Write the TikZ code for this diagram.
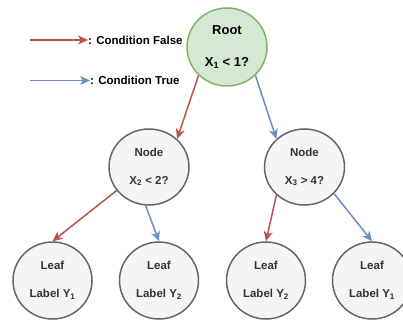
\documentclass[tikz,border=0pt]{standalone}
\usepackage{fontspec}
\setmainfont{Liberation Sans}
\usetikzlibrary{arrows.meta,shapes.geometric}
\definecolor{redE}{HTML}{B85450}
\definecolor{blueE}{HTML}{6C8EBF}
\definecolor{greenF}{HTML}{D5E8D4}
\definecolor{greenS}{HTML}{82B366}
\definecolor{grayF}{HTML}{F5F5F5}
\definecolor{grayS}{HTML}{666666}
\definecolor{txt}{HTML}{333333}
\tikzset{
  rootnode/.style={ellipse, draw=greenS, fill=greenF, line width=1.5pt, minimum width=80pt, minimum height=78pt, inner sep=0pt, align=center, text=black, font=\fontsize{13}{15.6}\selectfont\bfseries},
  testnode/.style={ellipse, draw=grayS, fill=grayF, line width=1.5pt, minimum width=80pt, minimum height=76pt, inner sep=0pt, align=center, text=txt, font=\fontsize{11.5}{13.8}\selectfont\bfseries},
  leafnode/.style={ellipse, draw=grayS, fill=grayF, line width=1.5pt, minimum width=79pt, minimum height=77pt, inner sep=0pt, align=center, text=txt, font=\fontsize{11.5}{13.8}\selectfont\bfseries},
  falseedge/.style={draw=redE, line width=1.5pt, -{Stealth[length=10pt,width=9pt,inset=3pt]}},
  trueedge/.style={draw=blueE, line width=1.5pt, -{Stealth[length=10pt,width=9pt,inset=3pt]}},
  legendtext/.style={anchor=west, inner sep=0pt, text=black, font=\fontsize{11.5}{13.8}\selectfont\bfseries}
}
\begin{document}
\begin{tikzpicture}[x=1pt,y=-1pt]
\useasboundingbox (0,0) rectangle (403,320);
\fill[white] (0,0) rectangle (403,320);
\begin{scope}
\clip (0,0) rectangle (403,320);
\node[rootnode] (root) at (227,47) {Root\\[15.6pt]X\textsubscript{1} < 1?};
\node[testnode] (n2) at (149,167) {Node\\[13.8pt]X\textsubscript{2} < 2?};
\node[testnode] (n3) at (304.5,167) {Node\\[13.8pt]X\textsubscript{3} > 4?};
\node[leafnode] (l1) at (52.5,280.5) {Leaf\\[13.8pt]Label Y\textsubscript{1}};
\node[leafnode] (l2) at (159,280.5) {Leaf\\[13.8pt]Label Y\textsubscript{2}};
\node[leafnode] (l3) at (266,280.5) {Leaf\\[13.8pt]Label Y\textsubscript{2}};
\node[leafnode] (l4) at (372,280.5) {Leaf\\[13.8pt]Label Y\textsubscript{1}};
\end{scope}
\draw[falseedge] (root.225) -- (n2.45);
\draw[trueedge] (root.315) -- (n3.135);
\draw[falseedge] (n2.216) -- (l1.90);
\draw[trueedge] (n2.265) -- (l2.90);
\draw[falseedge] (n3.225) -- (l3.90);
\draw[trueedge] (n3.318) -- (l4.90);
\coordinate (fs) at (30,40);
\node[legendtext] (ft) at (88,40) {: Condition False};
\draw[falseedge] (fs) -- (ft.west);
\coordinate (ts) at (30,80.5);
\node[legendtext] (tt) at (90,80.5) {: Condition True};
\draw[trueedge] (ts) -- (tt.west);
\end{tikzpicture}
\end{document}
